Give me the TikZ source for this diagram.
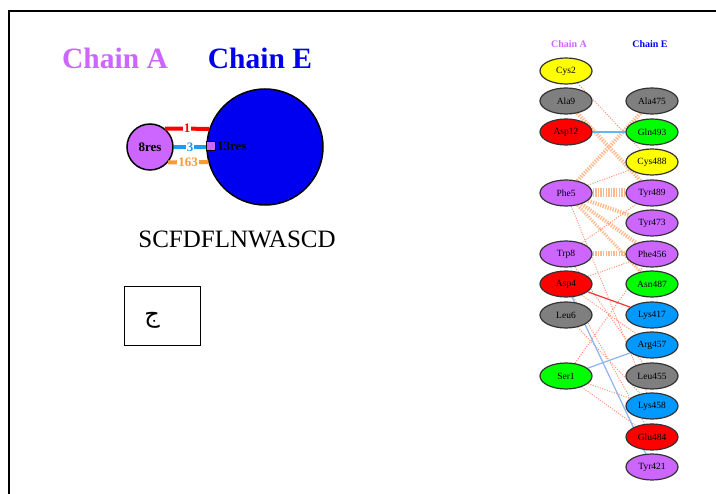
\documentclass[tikz,border=0pt]{standalone}
\usepackage{fontspec}
\setmainfont{Liberation Serif}
\newfontfamily\arabicfont[Script=Arabic]{DejaVu Sans}
\TeXXeTstate=1
\usetikzlibrary{shapes.geometric,backgrounds}
\definecolor{resviolet}{HTML}{CC66FF}
\definecolor{resgray}{HTML}{7F7F7F}
\definecolor{resred}{HTML}{FF0000}
\definecolor{resgreen}{HTML}{00FF00}
\definecolor{resyellow}{HTML}{FFFF00}
\definecolor{resblue}{HTML}{0099FF}
\definecolor{chainblue}{HTML}{0000F0}
\definecolor{linkblue}{HTML}{1E9BF0}
\definecolor{linkorange}{HTML}{FF9A2E}
\definecolor{hbblue}{HTML}{8CB4EE}
\definecolor{hatch}{HTML}{FFB98C}
\definecolor{thindot}{HTML}{FF8F70}
\begin{document}
\begin{tikzpicture}[x=1pt,y=-1pt]
		\tikzset{res/.style = {shape=ellipse,draw=black!80,line width=1.2pt,minimum width=52pt,minimum height=26pt,inner sep=0pt,font=\fontsize{9.5}{10}\selectfont},
			chainlbl/.style = {font=\fontsize{29.5}{30}\selectfont\bfseries},
			hdr/.style = {font=\fontsize{10}{11}\selectfont\bfseries},
			hatched/.style = {draw=hatch,dash pattern=on 1.3pt off 1.3pt},
			thin dots/.style = {draw=thindot,line width=1pt,dash pattern=on 1pt off 1.5pt},
			bond/.style = {line width=1.2pt},
			ifacelink/.style = {line width=4pt},
			linklbl/.style = {fill=white,inner sep=1pt,font=\fontsize{13}{14}\selectfont\bfseries}}
		\useasboundingbox (0,0) rectangle (716,494);
		% frame
		\draw[line width=1.5pt] (9,494) -- (9,11) -- (716,11);
		% left panel: chain overview
		\node[chainlbl,text=resviolet] (ttlA) at (115,58) {Chain A};
		\node[chainlbl,text=chainblue] (ttlE) at (260,58) {Chain E};
		\node[circle,draw,line width=1.5pt,fill=resviolet,minimum size=46pt,inner sep=0pt] (cA) at (150,147) {};
		\node[circle,draw,line width=1.5pt,fill=chainblue,minimum size=116pt,inner sep=0pt] (cE) at (265,147) {};
		\draw[ifacelink,resred] (cA.51.5) -- node[linklbl,text=resred] (nb1) {1} (cE.162);
		\draw[ifacelink,linkblue] (cA.east) -- node[linklbl,text=linkblue] (nb3) {3} (cE.west);
		\draw[ifacelink,linkorange] (cA.-40.7) -- node[linklbl,text=linkorange] (nb163) {163} (cE.195);
		\node[font=\fontsize{13}{14}\selectfont\bfseries] (lblA) at (cA) {8res};
		\node[draw,line width=1pt,fill=resviolet,minimum size=9pt,inner sep=0pt] (sq) at (211,146) {};
		\node[font=\fontsize{13}{14}\selectfont\bfseries,anchor=west,inner sep=1pt] (lblE) at (sq.east) {13res};
		\node[font=\fontsize{25}{26}\selectfont] (seq) at (237,239) {SCFDFLNWASCD};
		\node[draw,line width=0.8pt,minimum width=76pt,minimum height=59pt] (box) at (162,315.5) {};
		\node[font=\fontsize{24}{25}\selectfont] (glyph) at (152,320) {\arabicfont\beginR ج\endR};
		% right panel: residue contacts
		\node[hdr,text=resviolet] (hA) at (569,44) {Chain A};
		\node[hdr,text=blue] (hE) at (650,44) {Chain E};
		\node[res,fill=resyellow] (aCys2) at (566,71) {Cys2};
		\node[res,fill=resgray] (aAla9) at (566,101) {Ala9};
		\node[res,fill=resred] (aAsp12) at (566,132) {Asp12};
		\node[res,fill=resviolet] (aPhe5) at (566,193) {Phe5};
		\node[res,fill=resviolet] (aTrp8) at (566,254) {Trp8};
		\node[res,fill=resred] (aAsp4) at (566,284) {Asp4};
		\node[res,fill=resgray] (aLeu6) at (566,315) {Leu6};
		\node[res,fill=resgreen] (aSer1) at (566,376) {Ser1};
		\node[res,fill=resgray] (eAla475) at (652,101) {Ala475};
		\node[res,fill=resgreen] (eGln493) at (652,132) {Gln493};
		\node[res,fill=resyellow] (eCys488) at (652,162) {Cys488};
		\node[res,fill=resviolet] (eTyr489) at (652,193) {Tyr489};
		\node[res,fill=resviolet] (eTyr473) at (652,223) {Tyr473};
		\node[res,fill=resviolet] (ePhe456) at (652,254) {Phe456};
		\node[res,fill=resgreen] (eAsn487) at (652,284) {Asn487};
		\node[res,fill=resblue] (eLys417) at (652,315) {Lys417};
		\node[res,fill=resblue] (eArg457) at (652,345) {Arg457};
		\node[res,fill=resgray] (eLeu455) at (652,376) {Leu455};
		\node[res,fill=resblue] (eLys458) at (652,406) {Lys458};
		\node[res,fill=resred] (eGlu484) at (652,437) {Glu484};
		\node[res,fill=resviolet] (eTyr421) at (652,467) {Tyr421};
		\begin{scope}[on background layer]
			\draw[hatched,line width=9pt] (aPhe5) -- (eTyr489);
			\draw[hatched,line width=5pt] (aTrp8) -- (ePhe456);
			\draw[hatched,line width=4pt] (aPhe5) -- (ePhe456);
			\draw[hatched,line width=4pt] (aPhe5) -- (eTyr473);
			\draw[hatched,line width=4pt] (aAla9) -- (eTyr489);
			\draw[hatched,line width=4pt] (eAla475) -- (aPhe5);
			\draw[hatched,line width=3pt] (aPhe5) -- (eAsn487);
			\draw[thin dots] (aCys2) -- (eCys488);
			\draw[thin dots] (aPhe5) -- (eCys488);
			\draw[thin dots] (aTrp8) -- (eTyr489);
			\draw[thin dots] (aAsp4) -- (ePhe456);
			\draw[thin dots] (aAsp4) -- (eArg457);
			\draw[thin dots] (aAsp4) -- (eGlu484);
			\draw[thin dots] (aLeu6) -- (eLys458);
			\draw[thin dots] (aPhe5) -- (eLys458);
			\draw[thin dots] (aTrp8) -- (eLeu455);
			\draw[thin dots] (aSer1) -- (ePhe456);
			\draw[thin dots] (aSer1) -- (eLys458);
			\draw[thin dots] (aSer1) -- (eGlu484);
			\draw[bond,draw=linkblue!70] (aAsp12) -- (eGln493);
			\draw[bond,draw=resred!80] (aAsp4) -- (eLys417);
			\draw[bond,draw=hbblue] (aAsp4) -- (eTyr421);
			\draw[bond,draw=hbblue] (aSer1) -- (eArg457);
		\end{scope}
	\end{tikzpicture}
\end{document}
